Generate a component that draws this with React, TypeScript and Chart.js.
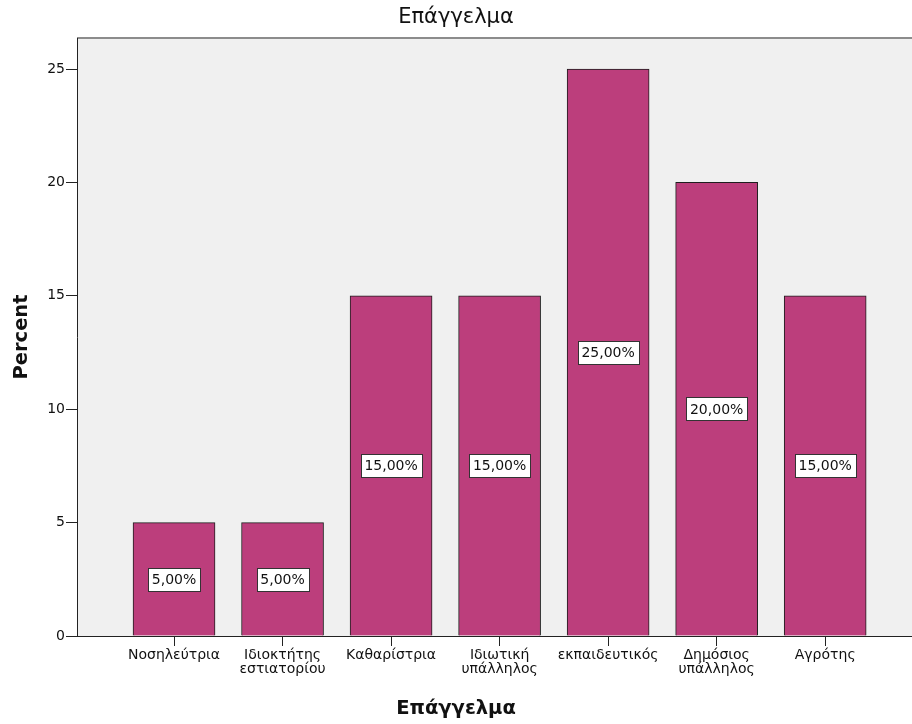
import React, { useEffect, useRef } from "react";
import { Chart, registerables } from "chart.js";

Chart.register(...registerables);

const categories: string[][] = [
  ["Νοσηλεύτρια"],
  ["Ιδιοκτήτης", "εστιατορίου"],
  ["Καθαρίστρια"],
  ["Ιδιωτική", "υπάλληλος"],
  ["εκπαιδευτικός"],
  ["Δημόσιος", "υπάλληλος"],
  ["Αγρότης"],
];
const percents: number[] = [5, 5, 15, 15, 25, 20, 15];
const yTicks: number[] = [0, 5, 10, 15, 20, 25];
const chartTitle = "Επάγγελμα";
const xTitle = "Επάγγελμα";
const yTitle = "Percent";

const FONT = "'DejaVu Sans', Verdana, sans-serif";

export default function App() {
  const ref = useRef<HTMLCanvasElement | null>(null);
  useEffect(() => {
    document.body.style.margin = "0";
    const canvas = ref.current!;
    const bgPlugin = {
      id: "bg",
      beforeDraw(chart: any) {
        const { ctx, chartArea: a } = chart;
        ctx.save();
        ctx.fillStyle = "#f0f0f0";
        ctx.fillRect(a.left, a.top, a.right - a.left, a.bottom - a.top);
        ctx.strokeStyle = "#8c8c8c";
        ctx.lineWidth = 2;
        ctx.beginPath();
        ctx.moveTo(a.left, a.top);
        ctx.lineTo(a.right, a.top);
        ctx.stroke();
        ctx.restore();
      },
      afterDraw(chart: any) {
        const { ctx, chartArea: a } = chart;
        ctx.save();
        ctx.fillStyle = "#111";
        ctx.textAlign = "center";
        ctx.textBaseline = "middle";
        ctx.font = `21px ${FONT}`;
        ctx.fillText(chartTitle, 456, 18);
        ctx.font = `bold 19.5px ${FONT}`;
        ctx.fillText(xTitle, 456, 709);
        ctx.translate(22, (a.top + a.bottom) / 2);
        ctx.rotate(-Math.PI / 2);
        ctx.font = `bold 19.5px ${FONT}`;
        ctx.fillText(yTitle, 0, 0);
        ctx.restore();
      },
    };
    const labelPlugin = {
      id: "boxlabels",
      afterDatasetsDraw(chart: any) {
        const { ctx } = chart;
        const meta = chart.getDatasetMeta(0);
        ctx.save();
        ctx.font = `14px ${FONT}`;
        ctx.textAlign = "center";
        ctx.textBaseline = "middle";
        meta.data.forEach((el: any, i: number) => {
          const txt = percents[i].toFixed(2).replace(".", ",") + "%";
          const cy = (el.y + el.base) / 2;
          const w = Math.round(ctx.measureText(txt).width + 8);
          const h = 23;
          const x0 = Math.round(el.x - w / 2) + 0.5;
          const y0 = Math.round(cy - h / 2) + 0.5;
          ctx.fillStyle = "#ffffff";
          ctx.fillRect(x0, y0, w, h);
          ctx.strokeStyle = "#333";
          ctx.lineWidth = 1;
          ctx.strokeRect(x0, y0, w, h);
          ctx.fillStyle = "#111";
          ctx.fillText(txt, el.x, cy + 1);
        });
        ctx.restore();
      },
    };
    const chart = new Chart(canvas, {
      type: "bar",
      data: {
        datasets: [
          {
            data: percents.map((v, i) => ({ x: i, y: v })),
            backgroundColor: "#bc3e7c",
            borderColor: "#1e1e1e",
            borderWidth: 1,
            barThickness: 82,
          },
        ],
      },
      options: {
        animation: false,
        responsive: false,
        maintainAspectRatio: false,
        layout: { padding: { top: 38, right: 0, left: 0, bottom: 0 } },
        plugins: { legend: { display: false }, tooltip: { enabled: false }, title: { display: false } },
        scales: {
          x: {
            type: "linear",
            offset: false,
            min: -0.894,
            max: 6.8,
            afterBuildTicks(scale: any) {
              scale.ticks = categories.map((_, i) => ({ value: i }));
            },
            afterFit(scale: any) {
              scale.height = 88;
            },
            ticks: {
              autoSkip: false,
              maxRotation: 0,
              padding: 2,
              color: "#111",
              font: { family: FONT, size: 14, lineHeight: 1.0 },
              callback: (v: any) => categories[v] ?? "",
            },
            grid: { offset: false, drawOnChartArea: false, drawTicks: true, tickLength: 10, color: "#222", lineWidth: 1 },
            border: { display: true, color: "#222", width: 1 },
          },
          y: {
            min: 0,
            max: 26.37,
            afterBuildTicks(scale: any) {
              scale.ticks = yTicks.map((v) => ({ value: v }));
            },
            afterFit(scale: any) {
              scale.width = 77;
            },
            ticks: {
              padding: 1,
              color: "#111",
              font: { family: FONT, size: 14 },
            },
            grid: { drawOnChartArea: false, drawTicks: true, tickLength: 11, color: "#222", lineWidth: 1 },
            border: { display: true, color: "#222", width: 1 },
          },
        },
      },
      plugins: [bgPlugin, labelPlugin],
    } as any);
    return () => chart.destroy();
  }, []);
  return (
    <div style={{ width: 912, height: 724, overflow: "hidden" }}>
      <canvas ref={ref} width={912} height={724} style={{ display: "block" }} />
    </div>
  );
}
